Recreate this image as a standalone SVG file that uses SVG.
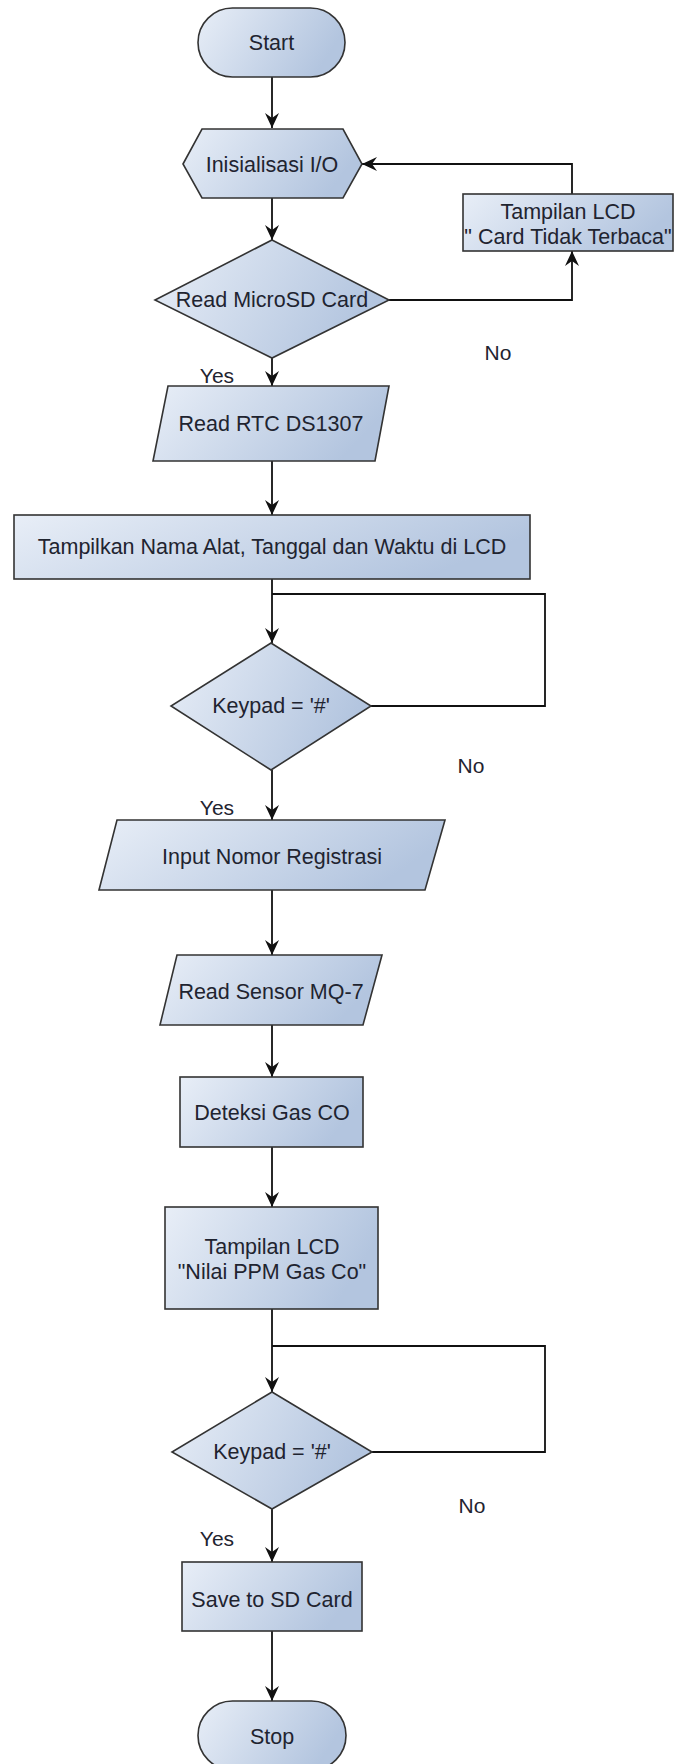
<svg xmlns="http://www.w3.org/2000/svg" width="678" height="1764" viewBox="0 0 678 1764">
<style>
.s{fill:url(#g);stroke:#333;stroke-width:1.6}
.t{font-family:"Liberation Sans",Arial,sans-serif;font-size:21.5px;fill:#1f2430;text-anchor:middle}
.l{font-family:"Liberation Sans",Arial,sans-serif;font-size:21px;fill:#1f2430;text-anchor:middle}
.c{fill:none;stroke:#111;stroke-width:1.8}
.a{marker-end:url(#ah)}
</style>
<defs>
<linearGradient id="g" x1="0" y1="0" x2="1" y2="0.3">
<stop offset="0" stop-color="#e8eef7"/>
<stop offset="1" stop-color="#b3c5df"/>
</linearGradient>
<marker id="ah" markerUnits="userSpaceOnUse" markerWidth="16" markerHeight="14" refX="15" refY="7" orient="auto">
<path d="M0,0 L15,7 L0,14 L5,7 z" fill="#111"/>
</marker>
</defs>
<rect width="678" height="1764" fill="#fff"/>
<g id="connectors">
<path class="c a" d="M272,77 V128"/>
<path class="c a" d="M272,198 V240"/>
<path class="c a" d="M389,300 H572 V251"/>
<path class="c a" d="M572,194 V164 H362"/>
<path class="c a" d="M272,358 V386"/>
<path class="c a" d="M272,461 V515"/>
<path class="c a" d="M272,579 V643"/>
<path class="c" d="M371,706 H545 V594 H272"/>
<path class="c a" d="M272,770 V820"/>
<path class="c a" d="M272,890 V955"/>
<path class="c a" d="M272,1025 V1077"/>
<path class="c a" d="M272,1147 V1207"/>
<path class="c a" d="M272,1309 V1392"/>
<path class="c" d="M372,1452 H545 V1346 H272"/>
<path class="c a" d="M272,1509 V1562"/>
<path class="c a" d="M272,1631 V1701"/>
</g>
<g id="labels">
<text class="l" x="217" y="383">Yes</text>
<text class="l" x="498" y="360">No</text>
<text class="l" x="217" y="815">Yes</text>
<text class="l" x="471" y="773">No</text>
<text class="l" x="217" y="1546">Yes</text>
<text class="l" x="472" y="1513">No</text>
</g>
<g id="start">
<rect class="s" x="198" y="8" width="147" height="69" rx="34.5"/>
<text class="t" x="271.5" y="50">Start</text>
</g>
<g id="init">
<polygon class="s" points="183,164 202,129 343,129 362,164 343,198 202,198"/>
<text class="t" x="272" y="172">Inisialisasi I/O</text>
</g>
<g id="readsd">
<polygon class="s" points="272,240 389,300 272,358 155,300"/>
<text class="t" x="272" y="307">Read MicroSD Card</text>
</g>
<g id="lcderr">
<rect class="s" x="463" y="194" width="210" height="57"/>
<text class="t" x="568" y="219">Tampilan LCD</text>
<text class="t" x="568" y="244">" Card Tidak Terbaca"</text>
</g>
<g id="rtc">
<polygon class="s" points="168,386 389,386 375,461 153,461"/>
<text class="t" x="271" y="431">Read RTC DS1307</text>
</g>
<g id="tampil">
<rect class="s" x="14" y="515" width="516" height="64"/>
<text class="t" x="272" y="554">Tampilkan Nama Alat, Tanggal dan Waktu di LCD</text>
</g>
<g id="key1">
<polygon class="s" points="271,643 371,706 271,770 171,706"/>
<text class="t" x="271" y="713">Keypad = '#'</text>
</g>
<g id="input">
<polygon class="s" points="117,820 445,820 425,890 99,890"/>
<text class="t" x="272" y="864">Input Nomor Registrasi</text>
</g>
<g id="sensor">
<polygon class="s" points="177,955 382,955 363,1025 160,1025"/>
<text class="t" x="271" y="999">Read Sensor MQ-7</text>
</g>
<g id="deteksi">
<rect class="s" x="180" y="1077" width="183" height="70"/>
<text class="t" x="272" y="1120">Deteksi Gas CO</text>
</g>
<g id="lcdppm">
<rect class="s" x="165" y="1207" width="213" height="102"/>
<text class="t" x="272" y="1254">Tampilan LCD</text>
<text class="t" x="272" y="1279">"Nilai PPM Gas Co"</text>
</g>
<g id="key2">
<polygon class="s" points="272,1392 372,1452 272,1509 172,1452"/>
<text class="t" x="272" y="1459">Keypad = '#'</text>
</g>
<g id="save">
<rect class="s" x="182" y="1562" width="180" height="69"/>
<text class="t" x="272" y="1607">Save to SD Card</text>
</g>
<g id="stop">
<rect class="s" x="198" y="1701" width="148" height="69" rx="34.5"/>
<text class="t" x="272" y="1744">Stop</text>
</g>
</svg>
